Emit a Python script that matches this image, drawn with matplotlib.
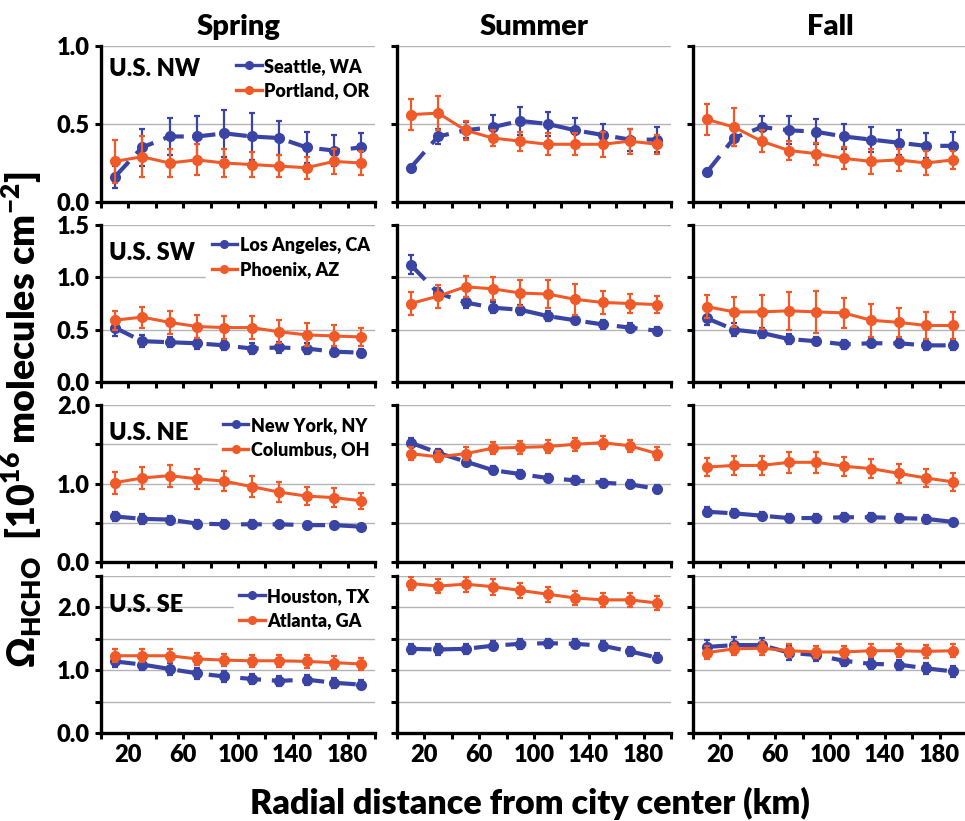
import numpy as np
import matplotlib
matplotlib.use("Agg")
import matplotlib.pyplot as plt
from matplotlib.lines import Line2D

plt.rcParams['font.family'] = ['Lato', 'DejaVu Sans']
plt.rcParams['font.weight'] = 'heavy'
plt.rcParams['mathtext.fontset'] = 'custom'
plt.rcParams['mathtext.bf'] = 'Lato:heavy'
plt.rcParams['mathtext.rm'] = 'Lato:heavy'

# ---- data ----
dist_km = [10, 30, 50, 70, 90, 110, 130, 150, 170, 190]
seasons = ['Spring', 'Summer', 'Fall']
regions = ['U.S. NW', 'U.S. SW', 'U.S. NE', 'U.S. SE']

# each city: [spring, summer, fall]
seattle = [[0.16, 0.35, 0.42, 0.42, 0.44, 0.42, 0.41, 0.35, 0.33, 0.35],
           [0.22, 0.42, 0.46, 0.48, 0.52, 0.50, 0.46, 0.43, 0.40, 0.40],
           [0.19, 0.41, 0.48, 0.46, 0.45, 0.42, 0.40, 0.38, 0.36, 0.36]]
seattle_err = [[0.07, 0.12, 0.12, 0.13, 0.15, 0.15, 0.11, 0.10, 0.10, 0.09],
               [0.02, 0.05, 0.05, 0.08, 0.09, 0.08, 0.08, 0.07, 0.07, 0.08],
               [0.02, 0.05, 0.07, 0.09, 0.08, 0.08, 0.08, 0.08, 0.08, 0.09]]
portland = [[0.26, 0.29, 0.25, 0.27, 0.25, 0.24, 0.23, 0.22, 0.26, 0.25],
            [0.56, 0.57, 0.46, 0.41, 0.39, 0.37, 0.37, 0.37, 0.39, 0.37],
            [0.53, 0.48, 0.39, 0.33, 0.31, 0.28, 0.26, 0.27, 0.25, 0.27]]
portland_err = [[0.14, 0.13, 0.09, 0.10, 0.09, 0.08, 0.07, 0.07, 0.08, 0.08],
                [0.10, 0.11, 0.06, 0.05, 0.06, 0.07, 0.07, 0.08, 0.08, 0.06],
                [0.10, 0.12, 0.07, 0.06, 0.07, 0.07, 0.08, 0.07, 0.08, 0.06]]

los_angeles = [[0.52, 0.39, 0.38, 0.37, 0.35, 0.32, 0.33, 0.32, 0.29, 0.28],
               [1.12, 0.85, 0.76, 0.71, 0.69, 0.63, 0.59, 0.55, 0.52, 0.49],
               [0.61, 0.50, 0.47, 0.41, 0.39, 0.36, 0.37, 0.37, 0.35, 0.35]]
los_angeles_err = [[0.08, 0.06, 0.05, 0.05, 0.04, 0.05, 0.05, 0.05, 0.04, 0.04],
                   [0.09, 0.05, 0.05, 0.05, 0.05, 0.05, 0.04, 0.04, 0.04, 0.04],
                   [0.07, 0.06, 0.05, 0.05, 0.04, 0.04, 0.04, 0.04, 0.04, 0.04]]
phoenix = [[0.59, 0.62, 0.57, 0.53, 0.52, 0.52, 0.48, 0.45, 0.44, 0.43],
           [0.75, 0.82, 0.91, 0.89, 0.85, 0.84, 0.79, 0.76, 0.75, 0.74],
           [0.72, 0.67, 0.67, 0.68, 0.67, 0.66, 0.59, 0.57, 0.54, 0.54]]
phoenix_err = [[0.09, 0.10, 0.11, 0.11, 0.11, 0.11, 0.11, 0.11, 0.10, 0.09],
               [0.11, 0.11, 0.10, 0.11, 0.12, 0.13, 0.15, 0.11, 0.09, 0.08],
               [0.11, 0.14, 0.16, 0.18, 0.20, 0.14, 0.16, 0.14, 0.13, 0.13]]

new_york = [[0.58, 0.55, 0.54, 0.49, 0.48, 0.48, 0.48, 0.47, 0.47, 0.45],
            [1.52, 1.39, 1.28, 1.17, 1.12, 1.07, 1.04, 1.01, 0.99, 0.93],
            [0.64, 0.62, 0.59, 0.56, 0.56, 0.57, 0.57, 0.56, 0.55, 0.51]]
new_york_err = [[0.06, 0.06, 0.05, 0.05, 0.05, 0.05, 0.04, 0.04, 0.04, 0.04],
                [0.06, 0.05, 0.05, 0.05, 0.05, 0.05, 0.05, 0.05, 0.05, 0.05],
                [0.06, 0.05, 0.05, 0.05, 0.05, 0.05, 0.05, 0.05, 0.05, 0.04]]
columbus = [[1.01, 1.07, 1.10, 1.06, 1.03, 0.96, 0.89, 0.84, 0.82, 0.78],
            [1.38, 1.34, 1.38, 1.45, 1.46, 1.47, 1.50, 1.52, 1.48, 1.38],
            [1.21, 1.23, 1.23, 1.27, 1.27, 1.22, 1.19, 1.13, 1.07, 1.02]]
columbus_err = [[0.14, 0.14, 0.14, 0.13, 0.13, 0.13, 0.13, 0.12, 0.12, 0.10],
                [0.08, 0.07, 0.08, 0.08, 0.08, 0.08, 0.08, 0.08, 0.08, 0.08],
                [0.11, 0.12, 0.12, 0.13, 0.13, 0.12, 0.12, 0.12, 0.12, 0.11]]

houston = [[1.14, 1.09, 1.02, 0.95, 0.90, 0.86, 0.83, 0.85, 0.80, 0.77],
           [1.34, 1.33, 1.34, 1.39, 1.42, 1.43, 1.42, 1.39, 1.30, 1.20],
           [1.37, 1.40, 1.40, 1.28, 1.24, 1.15, 1.10, 1.09, 1.03, 0.98]]
houston_err = [[0.09, 0.08, 0.09, 0.09, 0.08, 0.08, 0.08, 0.08, 0.08, 0.07],
               [0.08, 0.08, 0.08, 0.07, 0.08, 0.07, 0.07, 0.07, 0.07, 0.07],
               [0.11, 0.13, 0.11, 0.11, 0.10, 0.09, 0.08, 0.08, 0.09, 0.09]]
atlanta = [[1.23, 1.23, 1.23, 1.18, 1.16, 1.15, 1.15, 1.14, 1.12, 1.10],
           [2.38, 2.34, 2.37, 2.33, 2.27, 2.21, 2.15, 2.12, 2.12, 2.07],
           [1.28, 1.34, 1.35, 1.31, 1.29, 1.29, 1.31, 1.31, 1.30, 1.31]]
atlanta_err = [[0.10, 0.10, 0.10, 0.10, 0.10, 0.10, 0.10, 0.10, 0.10, 0.10],
               [0.10, 0.11, 0.12, 0.13, 0.12, 0.12, 0.11, 0.11, 0.11, 0.11],
               [0.10, 0.10, 0.10, 0.10, 0.10, 0.10, 0.10, 0.10, 0.10, 0.10]]

# (blue city, orange city) per row
row_cities = [(('Seattle, WA', seattle, seattle_err), ('Portland, OR', portland, portland_err)),
              (('Los Angeles, CA', los_angeles, los_angeles_err), ('Phoenix, AZ', phoenix, phoenix_err)),
              (('New York, NY', new_york, new_york_err), ('Columbus, OH', columbus, columbus_err)),
              (('Houston, TX', houston, houston_err), ('Atlanta, GA', atlanta, atlanta_err))]
row_ymax = [1.0, 1.5, 2.0, 2.5]
row_yticklabels = [[0.0, 0.5, 1.0], [0.0, 0.5, 1.0, 1.5], [0.0, 1.0, 2.0], [0.0, 1.0, 2.0]]
row_label_y = [0.85, 0.82, 0.82, 0.815]
xtick_labels = [20, 60, 100, 140, 180]

BLUE = '#3a44a4'
ORANGE = '#ef5a28'

W, H = 965, 821
fig = plt.figure(figsize=(W / 100, H / 100), dpi=100)

col_left = [101, 397, 693]
col_w = 274
row_top = [46, 225, 405, 576]
row_bot = [202, 382, 562, 733]

for r in range(4):
    (bname, bdata, berr), (oname, odata, oerr) = row_cities[r]
    for c in range(3):
        ax = fig.add_axes([col_left[c] / W, 1 - row_bot[r] / H,
                           col_w / W, (row_bot[r] - row_top[r]) / H])
        ax.errorbar(dist_km, bdata[c], yerr=berr[c], color=BLUE, lw=3,
                    ls=(0, (5, 2.6)), marker='o', ms=7, capsize=2.5,
                    elinewidth=1.6, capthick=1.6, zorder=3)
        ax.errorbar(dist_km, odata[c], yerr=oerr[c], color=ORANGE, lw=2.2,
                    marker='o', ms=7, capsize=2.5, elinewidth=1.6,
                    capthick=1.6, zorder=4)

        ax.set_xlim(0, 200)
        ax.set_ylim(0, row_ymax[r])
        ax.set_xticks(np.arange(0, 201, 20))
        yt = np.arange(0, row_ymax[r] + 0.01, 0.5)
        ax.set_yticks(yt)
        ax.yaxis.grid(True, color='#b4b4b4', lw=1)
        ax.set_axisbelow(True)
        for s in ['top', 'right']:
            ax.spines[s].set_visible(False)
        for s in ['left', 'bottom']:
            ax.spines[s].set_linewidth(2.4)
        ax.tick_params(direction='out', length=4, width=2.2, labelsize=17, pad=4)

        if r == 3:
            ax.set_xticklabels([str(t) if t in xtick_labels else '' for t in range(0, 201, 20)])
        else:
            ax.set_xticklabels([])

        if c == 0:
            ax.set_yticklabels([f'{t:.1f}' if round(t, 1) in row_yticklabels[r] else '' for t in yt])
            ax.text(0.03, row_label_y[r], regions[r], transform=ax.transAxes,
                    fontsize=17, va='center', ha='left', zorder=2)
            handles = [Line2D([], [], color=BLUE, lw=2.4, marker='o', ms=5.5),
                       Line2D([], [], color=ORANGE, lw=2.4, marker='o', ms=5.5)]
            leg = ax.legend(handles, [bname, oname], loc='upper right',
                            bbox_to_anchor=(1.0, 0.96), borderaxespad=0,
                            frameon=True, fancybox=False, framealpha=1,
                            edgecolor='white', prop={'weight': 'heavy', 'size': 13},
                            handlelength=1.4, handletextpad=0.15,
                            labelspacing=0.4, borderpad=0.3)
            leg.set_zorder(5)
        else:
            ax.set_yticklabels([])

        if r == 0:
            ax.set_title(seasons[c], fontsize=21, fontweight='heavy', pad=8)

fig.text(530 / W, 1 - 803 / H, 'Radial distance from city center (km)',
         ha='center', va='center', fontsize=24.5, fontweight='heavy')
fig.text(22 / W, 1 - 420 / H,
         r'$\mathbf{\Omega_{HCHO}}$  [10$^{\mathbf{16}}$ molecules cm$^{\mathbf{-2}}$]',
         rotation=90, ha='center', va='center', fontsize=27, fontweight='heavy')

fig.savefig('out.png', dpi=100)
